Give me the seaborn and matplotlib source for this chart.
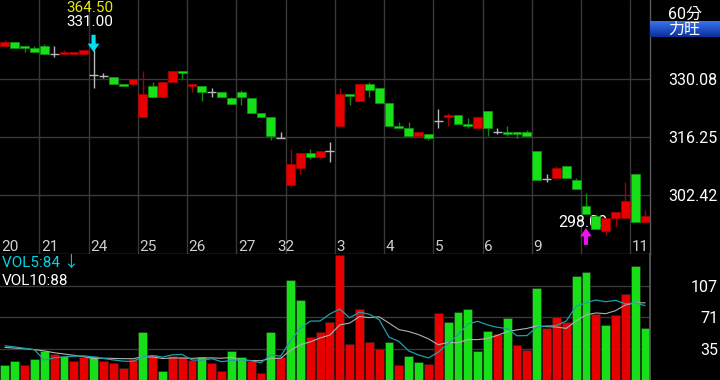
import numpy as np
import pandas as pd
import matplotlib
matplotlib.use('Agg')
import matplotlib.pyplot as plt
import matplotlib.transforms as mtransforms
from matplotlib.colors import LinearSegmentedColormap
import seaborn as sns

# 60分 K線 (力旺) - 開高低收
opens = [338.0, 339.0, 338.0, 337.5, 338.0, 336.0, 336.0, 336.0, 336.0, 331.1,
         330.9, 330.6, 329.0, 329.0, 321.1, 328.5, 325.9, 329.5, 332.1, 328.5,
         328.5, 327.1, 327.1, 325.6, 327.1, 325.6, 322.0, 321.1, 316.0, 304.9,
         309.0, 312.5, 311.5, 313.0, 319.0, 326.6, 325.0, 329.0, 328.0, 324.5,
         319.0, 318.5, 316.6, 317.0, 320.1, 321.1, 321.6, 319.5, 318.5, 322.5,
         317.6, 317.5, 317.5, 317.5, 313.0, 306.3, 306.5, 309.4, 306.0, 299.9,
         297.5, 293.9, 297.0, 297.0, 307.5, 296.0]
highs = [339.5, 339.0, 338.0, 338.0, 338.5, 338.0, 337.1, 336.6, 337.1, 337.1,
         331.7, 330.6, 329.0, 330.1, 332.1, 329.5, 329.5, 332.1, 332.1, 329.0,
         328.5, 327.9, 327.1, 325.9, 327.5, 325.6, 322.0, 321.1, 317.4, 313.5,
         312.5, 313.5, 313.0, 315.1, 327.9, 326.6, 329.0, 329.5, 328.0, 324.5,
         320.0, 320.0, 317.5, 317.0, 323.0, 322.0, 321.6, 320.9, 321.1, 322.5,
         318.4, 319.0, 317.5, 318.0, 313.0, 307.6, 309.4, 309.4, 306.5, 303.0,
         298.0, 297.0, 298.4, 305.5, 307.5, 298.9]
lows = [338.0, 337.6, 336.5, 336.5, 336.0, 335.5, 336.0, 336.0, 336.0, 328.1,
        330.3, 329.0, 328.6, 328.5, 321.1, 325.9, 325.9, 329.5, 330.1, 327.1,
        325.0, 325.9, 325.9, 324.1, 324.0, 322.1, 321.1, 315.5, 316.0, 304.5,
        307.6, 311.1, 311.1, 310.4, 319.0, 324.0, 325.0, 325.9, 324.5, 319.0,
        318.5, 316.6, 316.6, 315.5, 318.5, 319.0, 319.5, 318.4, 318.5, 316.6,
        317.0, 316.6, 316.1, 316.6, 306.0, 305.5, 306.5, 306.5, 304.0, 298.0,
        294.5, 293.0, 294.9, 297.0, 296.0, 296.0]
closes = [339.0, 337.6, 337.6, 336.5, 336.0, 336.0, 336.7, 336.6, 337.1, 331.1,
          330.9, 329.0, 328.6, 330.1, 326.6, 325.9, 329.5, 332.1, 331.7, 329.0,
          327.1, 327.1, 325.9, 324.1, 325.9, 322.1, 321.1, 316.6, 316.0, 310.0,
          312.5, 311.5, 313.0, 313.0, 326.6, 326.0, 329.0, 327.5, 324.5, 319.0,
          318.5, 316.6, 317.5, 316.1, 320.1, 321.6, 319.5, 319.0, 321.1, 318.5,
          317.6, 317.0, 317.0, 316.6, 306.0, 306.3, 308.9, 306.5, 304.0, 298.0,
          294.5, 297.0, 298.4, 301.0, 296.0, 297.5]

# 成交量
volumes = [17, 22, 17, 24, 33, 30, 27, 21, 26, 27,
           21, 19, 14, 24, 54, 28, 10, 27, 26, 23,
           26, 19, 10, 33, 26, 21, 8, 54, 26, 114,
           91, 49, 55, 66, 142, 41, 81, 43, 35, 43,
           17, 27, 20, 18, 76, 66, 77, 81, 33, 56,
           52, 70, 40, 34, 104, 59, 72, 66, 118, 123,
           75, 62, 74, 98, 129, 59]
vol_side = list('ggrggrgrrg' 'rrrrgrgrrr' 'grrggrrgrg' 'grrrrrrrrg'
                'rggrrggggg' 'rgrrgrrrgg' 'rgrrgg')
ma5 = [38.8, 37.5, 36.0, 34.3, 22.6, 25.2, 26.2, 27.0, 27.4, 26.2,
       24.4, 22.8, 21.4, 21.0, 26.4, 27.8, 26.0, 28.6, 29.0, 22.8,
       22.4, 24.2, 20.8, 22.2, 22.8, 21.8, 19.6, 28.4, 27.0, 44.6,
       58.6, 66.8, 67.0, 75.0, 80.6, 70.6, 77.0, 74.6, 68.4, 48.6,
       43.8, 33.0, 28.4, 25.0, 31.6, 41.4, 51.4, 63.6, 66.6, 62.6,
       59.8, 58.4, 50.2, 50.4, 60.0, 61.4, 61.8, 67.0, 83.8, 87.6,
       90.8, 88.8, 90.4, 86.4, 87.6, 84.4]
ma10 = [37.0, 36.2, 35.5, 34.5, 33.0, 31.0, 29.5, 28.0, 26.5, 24.4,
        24.8, 24.5, 24.2, 24.2, 26.3, 26.1, 24.4, 25.0, 25.0, 24.6,
        25.1, 25.1, 24.7, 25.6, 22.8, 22.1, 21.9, 24.6, 24.6, 33.7,
        40.2, 43.2, 47.7, 51.0, 62.6, 64.6, 71.9, 70.8, 71.7, 64.6,
        57.2, 55.0, 51.5, 46.7, 40.1, 42.6, 42.2, 46.0, 45.8, 47.1,
        50.6, 54.9, 56.9, 58.5, 61.3, 60.6, 60.1, 58.6, 67.1, 73.8,
        76.1, 75.3, 78.7, 85.1, 87.6, 87.6]

day_starts = [0, 4, 9, 14, 19, 24, 29, 34, 39, 44, 49, 54, 59, 64]
day_labels = ['20', '21', '24', '25', '26', '27', '32', '3', '4', '5', '6', '9', '', '11']
price_ticks = [302.42, 316.25, 330.08]
vol_ticks = [35, 71, 107]

RED, GREEN = '#e60000', '#18e018'
RED_WICK, GREEN_WICK, DOJI = '#a00000', '#0b8a0b', '#b8b8b8'
GRID, BORDER = '#383838', '#5a5a5a'
CYAN = '#00d4e6'

sns.set_theme(style='dark', rc={'axes.facecolor': 'black', 'figure.facecolor': 'black'})
plt.rcParams['font.family'] = ['Roboto', 'Noto Sans CJK TC', 'DejaVu Sans']

fig = plt.figure(figsize=(7.2, 3.8), dpi=100)
axp = fig.add_axes([0, 126 / 380, 650 / 720, 254 / 380])
axv = fig.add_axes([0, 0, 650 / 720, 126 / 380])

o, h, l, c = map(np.array, (opens, highs, lows, closes))
idx = np.arange(len(o))
up, dn, flat = c > o, c < o, c == o

# K線
axp.vlines(idx[up], l[up], h[up], color=RED_WICK, lw=1, zorder=2)
axp.vlines(idx[dn], l[dn], h[dn], color=GREEN_WICK, lw=1, zorder=2)
axp.bar(idx[up], (c - o)[up], bottom=o[up], width=0.9, color=RED,
        edgecolor='#b00000', lw=0.5, zorder=3)
axp.bar(idx[dn], (o - c)[dn], bottom=c[dn], width=0.9, color=GREEN,
        edgecolor='#0c9a0c', lw=0.5, zorder=3)
axp.vlines(idx[flat], l[flat], h[flat], color=DOJI, lw=1, zorder=3)
axp.hlines(o[flat], idx[flat] - 0.45, idx[flat] + 0.45, color=DOJI, lw=1, zorder=3)

axp.set_xlim(-0.5, len(o) - 0.5)
axp.set_ylim(288.42, 348.99)
axp.set_xticks([s - 0.5 for s in day_starts[1:]])
axp.set_yticks(price_ticks, labels=[f'{t:.2f}' for t in price_ticks])
axp.yaxis.tick_right()
axp.grid(True, color=GRID, lw=1)
axp.tick_params(axis='x', length=0, labelbottom=False)
axp.tick_params(axis='y', length=0, pad=13, labelsize=11.5, labelcolor='white')
for side in ['top', 'left']:
    axp.spines[side].set_visible(False)
for side in ['right', 'bottom']:
    axp.spines[side].set_color(BORDER)
    axp.spines[side].set_linewidth(1)

trans = mtransforms.blended_transform_factory(axp.transData, axp.transAxes)
for s, lab in zip(day_starts, day_labels):
    if lab == '32':
        axp.text(s - 0.5, 0.028, lab, transform=trans, ha='center', va='center',
                 color='#cfcfcf', fontsize=11)
    else:
        axp.text(s - 0.35, 0.028, lab, transform=trans, ha='left', va='center',
                 color='#cfcfcf', fontsize=11)

# 最高/最低標示
axp.text(6.2, 347.1, '364.50', color='#e8e800', fontsize=11, va='center', ha='left')
axp.text(6.2, 343.8, '331.00', color='white', fontsize=11, va='center', ha='left')
axp.annotate('', xy=(9, 336.6), xytext=(9, 340.7),
             arrowprops=dict(facecolor='#00e0f0', edgecolor='none', width=3,
                             headwidth=8.5, headlength=6), zorder=5)
axp.text(56.16, 295.9, '298.00', color='white', fontsize=11.5, va='center',
         ha='left', zorder=2.5)
axp.annotate('', xy=(59, 294.6), xytext=(59, 290.6),
             arrowprops=dict(facecolor='#ee10ee', edgecolor='none', width=3,
                             headwidth=8.5, headlength=6), zorder=5)

# 成交量
vdf = pd.DataFrame({'idx': idx, 'vol': volumes, 'side': vol_side})
sns.barplot(data=vdf, x='idx', y='vol', hue='side', palette={'r': RED, 'g': GREEN},
            native_scale=True, width=0.9, dodge=False, legend=False, saturation=1,
            errorbar=None, edgecolor='#202020', linewidth=0.4, ax=axv)
sns.lineplot(x=idx, y=ma10, color='#b0b0b0', lw=0.8, ax=axv)
sns.lineplot(x=idx, y=ma5, color='#1aa0aa', lw=0.9, ax=axv)
axv.set_xlim(-0.5, len(o) - 0.5)
axv.set_ylim(0, 143)
axv.set_xlabel('')
axv.set_ylabel('')
axv.set_xticks([])
axv.set_yticks(vol_ticks, labels=[str(t) for t in vol_ticks])
axv.yaxis.tick_right()
axv.grid(True, axis='y', color=GRID, lw=1)
axv.tick_params(axis='y', length=0, pad=49, labelsize=11.5, labelcolor='white')
for t in axv.get_yticklabels():
    t.set_horizontalalignment('right')
for side in ['top', 'left', 'bottom']:
    axv.spines[side].set_visible(False)
axv.spines['right'].set_color(BORDER)
axv.text(0.003, 0.93, 'VOL5:84 ↓', color=CYAN, fontsize=11, va='center',
         transform=axv.transAxes)
axv.text(0.003, 0.783, 'VOL10:88', color='white', fontsize=11, va='center',
         transform=axv.transAxes)

# 右上角 週期/股名
fig.text(668 / 720, 1 - 14 / 380, '60分', color='white', fontsize=11.5, va='center')
axb = fig.add_axes([650 / 720, 1 - 37.5 / 380, 70 / 720, 17 / 380])
grad = LinearSegmentedColormap.from_list('box', ['#3a78f2', '#0d2f9c'])
axb.imshow(np.linspace(0, 1, 20).reshape(-1, 1), aspect='auto', cmap=grad)
axb.axis('off')
fig.text(668 / 720, 1 - 29.5 / 380, '力旺', color='white', fontsize=11.5, va='center')

fig.savefig('out.png', dpi=100, facecolor='black')
